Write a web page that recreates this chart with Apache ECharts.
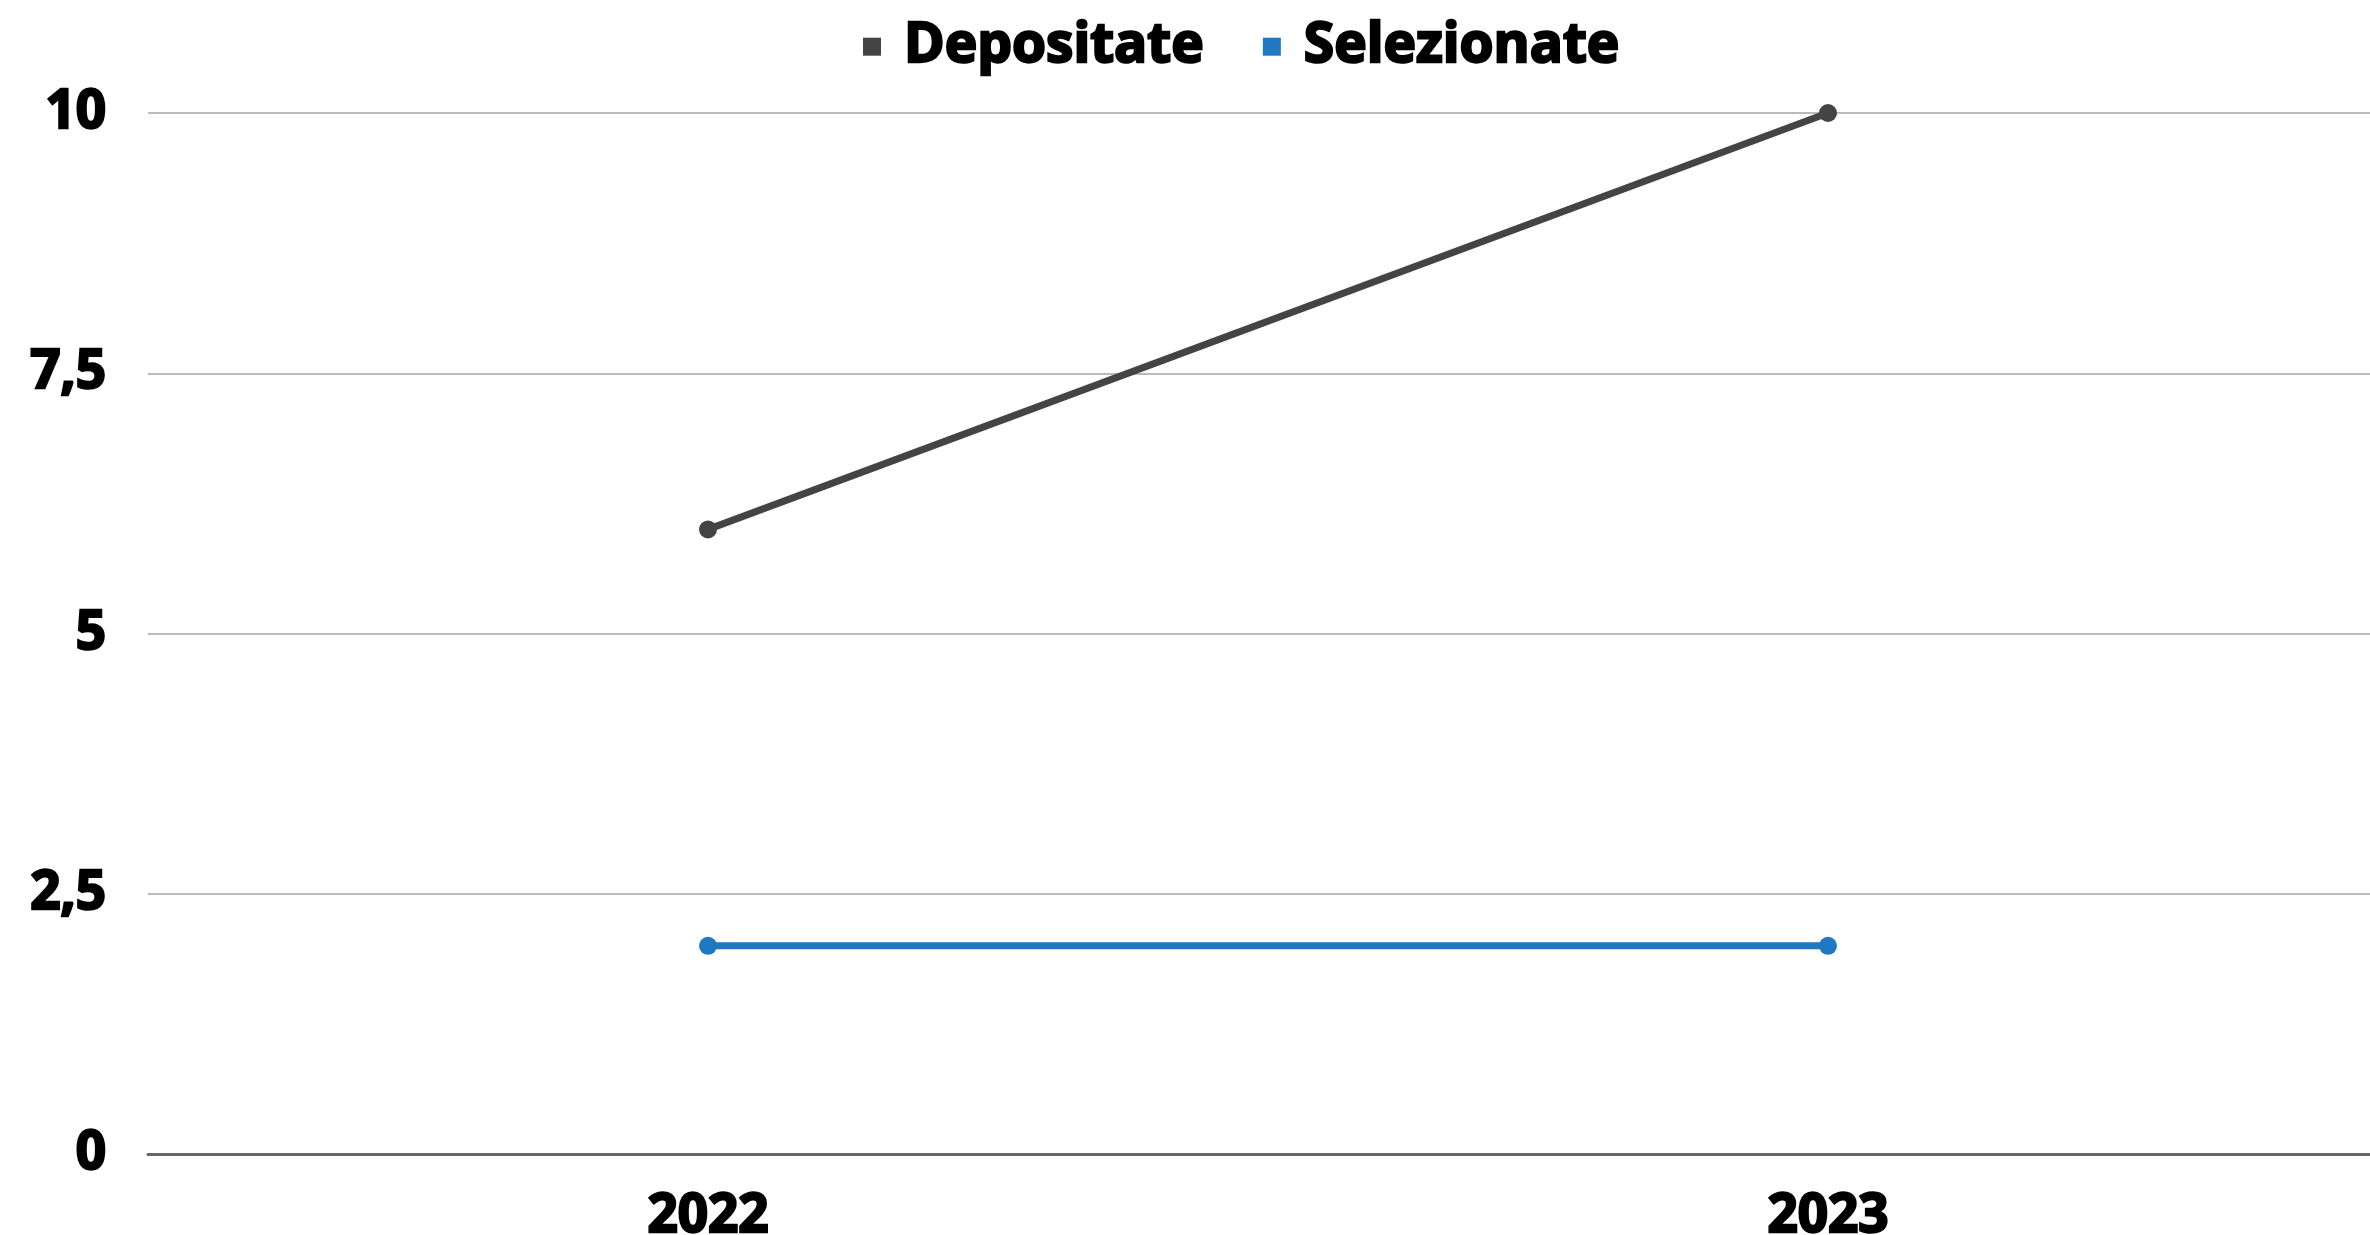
<!DOCTYPE html>
<html>
<head>
<meta charset="utf-8">
<script src="https://cdn.jsdelivr.net/npm/echarts@6/dist/echarts.min.js"></script>
<style>
html,body{margin:0;padding:0;background:#fff;}
#chart{width:2370px;height:1235px;}
</style>
</head>
<body>
<div id="chart"></div>
<script>
const categories = ['2022', '2023'];
const depositate = [6, 10];
const selezionate = [2, 2];
const seriesNames = ['Depositate', 'Selezionate'];

const FONT = '"Open Sans", "Noto Sans", sans-serif';
const txt = { fontFamily: FONT, fontWeight: 'bold', fontSize: 53, color: '#000', textBorderColor: '#000', textBorderWidth: 2.4 };
const chart = echarts.init(document.getElementById('chart'));
chart.setOption({
  backgroundColor: '#ffffff',
  animation: false,
  legend: {
    left: 858,
    top: 13,
    itemWidth: 18,
    itemHeight: 18,
    itemGap: 58,
    icon: 'rect',
    data: seriesNames,
    textStyle: Object.assign({}, txt, { fontSize: 55, padding: [0, 0, 0, 18] })
  },
  grid: { left: 148, right: -18, top: 113, bottom: 81, outerBoundsMode: 'none', containLabel: false },
  xAxis: {
    type: 'category',
    data: categories,
    boundaryGap: true,
    axisLine: { lineStyle: { color: '#666', width: 3 } },
    axisTick: { show: false },
    axisLabel: Object.assign({}, txt, { margin: 36 })
  },
  yAxis: {
    type: 'value',
    min: 0, max: 10, interval: 2.5,
    axisLine: { show: false },
    axisTick: { show: false },
    splitLine: { lineStyle: { color: '#bbbbbb', width: 2 } },
    axisLabel: Object.assign({}, txt, {
      margin: 42,
      formatter: v => String(v).replace('.', ',')
    })
  },
  series: [
    {
      name: seriesNames[0], type: 'line', data: depositate,
      color: '#444444',
      symbol: 'circle', symbolSize: 18,
      lineStyle: { width: 7, color: '#444444' },
      itemStyle: { color: '#444444' }
    },
    {
      name: seriesNames[1], type: 'line', data: selezionate,
      color: '#1f78c1',
      symbol: 'circle', symbolSize: 18,
      lineStyle: { width: 7, color: '#1f78c1' },
      itemStyle: { color: '#1f78c1' }
    }
  ]
});
</script>
</body>
</html>
